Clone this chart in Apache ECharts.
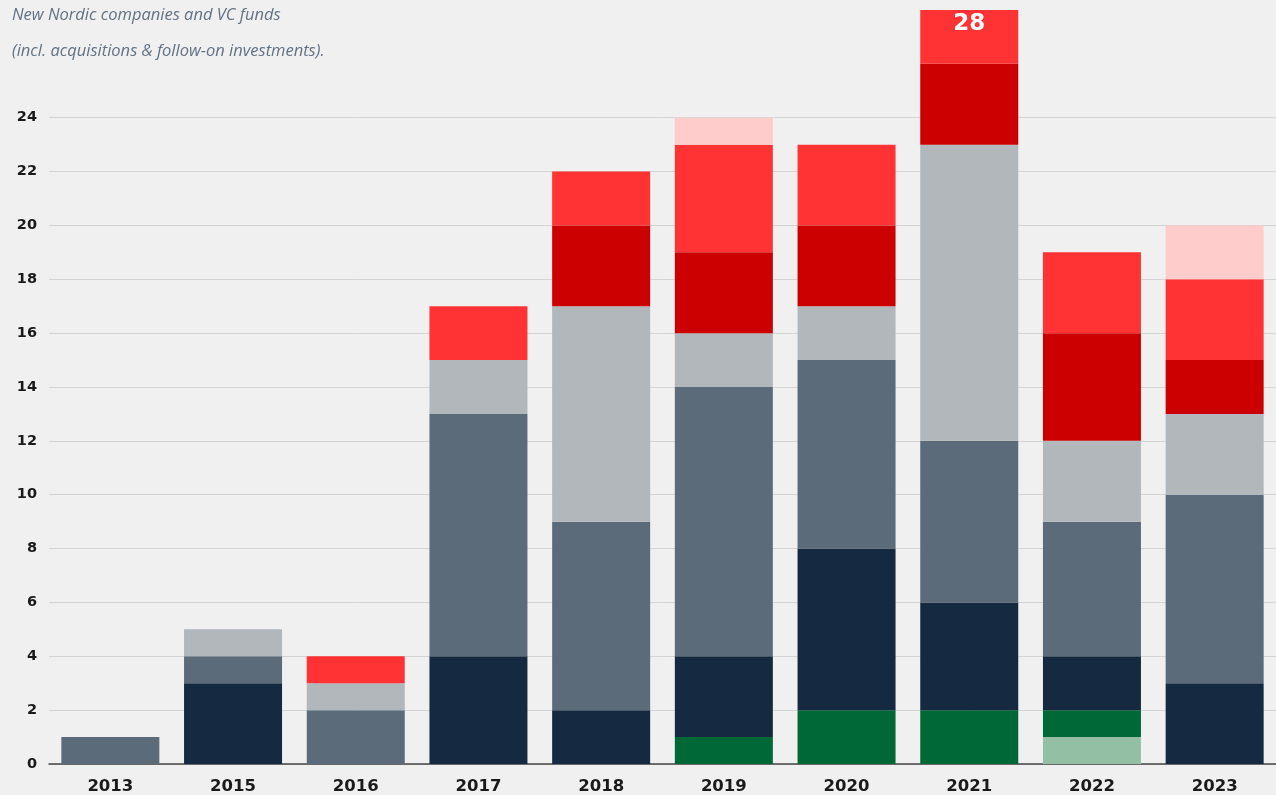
<!DOCTYPE html>
<html>
<head>
<meta charset="utf-8">
<script src="https://cdn.jsdelivr.net/npm/echarts@6/dist/echarts.min.js"></script>
<style>
  html, body { margin: 0; padding: 0; background: #f0f0f0; }
  #main { width: 1276px; height: 795px; }
</style>
</head>
<body>
<div id="main"></div>
<script>
// years on the x axis
const years = ['2013', '2015', '2016', '2017', '2018', '2019', '2020', '2021', '2022', '2023']
// stacked segments, bottom to top
const lightGreen = [0, 0, 0, 0, 0, 0, 0, 0, 1, 0]
const darkGreen = [0, 0, 0, 0, 0, 1, 2, 2, 1, 0]
const navy = [0, 3, 0, 4, 2, 3, 6, 4, 2, 3]
const slate = [1, 1, 2, 9, 7, 10, 7, 6, 5, 7]
const grey = [0, 1, 1, 2, 8, 2, 2, 11, 3, 3]
const darkRed = [0, 0, 0, 0, 3, 3, 3, 3, 4, 2]
const red = [0, 0, 1, 2, 2, 4, 3, 2, 3, 3]
const pink = [0, 0, 0, 0, 0, 1, 0, 0, 0, 2]
const yTicks = [0, 2, 4, 6, 8, 10, 12, 14, 16, 18, 20, 22, 24]

const chartDom = document.getElementById('main')
const myChart = echarts.init(chartDom)

const layers = [
  { name: 'lightGreen', data: lightGreen, color: '#93bfa5' },
  { name: 'darkGreen', data: darkGreen, color: '#006837' },
  { name: 'navy', data: navy, color: '#152a40' },
  { name: 'slate', data: slate, color: '#5b6b7a' },
  { name: 'grey', data: grey, color: '#b2b7bc' },
  { name: 'darkRed', data: darkRed, color: '#cc0000' },
  { name: 'red', data: red, color: '#ff3333' },
  { name: 'pink', data: pink, color: '#ffcccc' }
]

// total per year, used for the label on the top segment of 2021
const totals = years.map((y, i) => layers.reduce((s, l) => s + l.data[i], 0))

// grid lines only up to the highest tick label
const splitColors = []
for (let v = 0; v <= 28; v += 2) {
  splitColors.push(yTicks.includes(v) ? '#d4d4d4' : 'transparent')
}

const series = layers.map(l => ({
  name: l.name,
  type: 'bar',
  stack: 'all',
  barWidth: 98,
  itemStyle: { color: l.color },
  data: l.data.map((v, i) => {
    const item = { value: v === 0 ? '-' : v }
    if (l.name === 'red' && years[i] === '2021') {
      item.label = {
        show: true,
        position: 'insideTop',
        distance: 3,
        formatter: String(totals[i]),
        color: '#ffffff',
        fontSize: 23,
        fontWeight: 900,
        fontFamily: 'DejaVu Sans'
      }
    }
    return item
  })
}))

const option = {
  backgroundColor: '#f0f0f0',
  animation: false,
  title: {
    text: 'New Nordic companies and VC funds\n(incl. acquisitions & follow-on investments).',
    left: 7,
    top: -8,
    textStyle: {
      fontFamily: 'Open Sans',
      fontStyle: 'italic',
      fontWeight: 'normal',
      fontSize: 16.5,
      color: '#627284',
      lineHeight: 36
    }
  },
  grid: { left: 49, right: 0, top: 10, bottom: 30 },
  xAxis: {
    type: 'category',
    data: years,
    axisTick: { show: false },
    axisLine: { lineStyle: { color: '#444', width: 1.5 } },
    axisLabel: {
      color: '#1a1a1a',
      fontSize: 16.5,
      fontWeight: 'bold',
      fontFamily: 'DejaVu Sans',
      margin: 14
    }
  },
  yAxis: {
    type: 'value',
    min: 0,
    max: 28,
    interval: 2,
    axisLine: { show: false },
    axisTick: { show: false },
    splitLine: { lineStyle: { color: splitColors, width: 1 } },
    axisLabel: {
      color: '#1a1a1a',
      fontSize: 14.5,
      fontWeight: 'bold',
      fontFamily: 'DejaVu Sans',
      margin: 12,
      formatter: v => (yTicks.includes(v) ? String(v) : '')
    }
  },
  series: series
}
option && myChart.setOption(option)
</script>
</body>
</html>
